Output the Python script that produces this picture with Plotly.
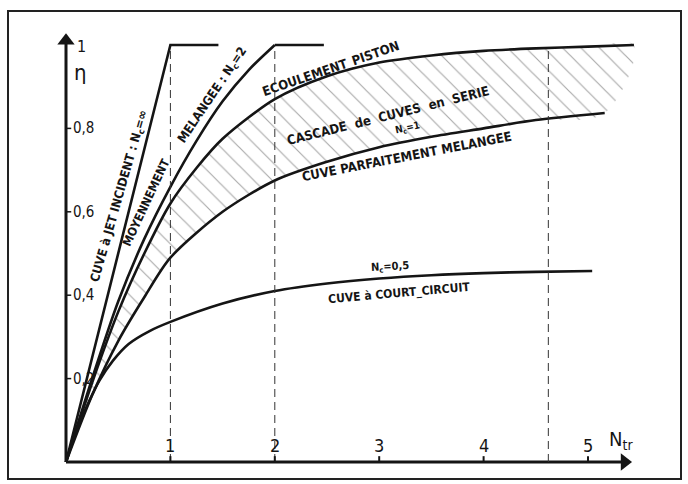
import plotly.graph_objects as go

# ---- data (Ntr -> eta) ----
jet_ntr = [0, 1.0, 1.46]
jet_eta = [0, 1.0, 1.0]

nc2_ntr = [0, 0.25, 0.5, 0.75, 1.0, 1.25, 1.5, 1.75, 2.0]
nc2_eta = [0, 0.2, 0.385, 0.535, 0.66, 0.77, 0.865, 0.94, 1.0]
nc2_flat_ntr = [2.0, 2.47]
nc2_flat_eta = [1.0, 1.0]

piston_ntr = [0, 0.25, 0.5, 0.75, 1.0, 1.25, 1.5, 2.0, 2.5, 3.0, 3.5, 4.0, 4.5, 5.0, 5.44]
piston_eta = [0, 0.19, 0.36, 0.5, 0.62, 0.705, 0.775, 0.87, 0.925, 0.958, 0.975, 0.986, 0.992, 0.996, 1.0]

parfait_ntr = [0, 0.25, 0.5, 0.75, 1.0, 1.5, 2.0, 2.5, 3.0, 3.5, 4.0, 4.5, 5.16]
parfait_eta = [0, 0.16, 0.29, 0.395, 0.49, 0.6, 0.675, 0.72, 0.755, 0.78, 0.80, 0.82, 0.837]

court_ntr = [0, 0.1, 0.22, 0.32, 0.45, 0.6, 0.8, 1.0, 1.5, 2.0, 2.5, 3.0, 3.5, 4.0, 4.5, 5.04]
court_eta = [0, 0.075, 0.145, 0.195, 0.243, 0.283, 0.314, 0.336, 0.38, 0.41, 0.428, 0.44, 0.448, 0.453, 0.456, 0.458]

dashed_x = [1.0, 2.0, 4.62]
x_ticks = [1, 2, 3, 4, 5]
x_tick_labels = ["1", "2", "3", "4", "5"]
y_ticks = [0.2, 0.4, 0.6, 0.8]
y_tick_labels = ["0,2", "0,4", "0,6", "0,8"]

# ---- pixel mapping helpers (plot area = whole 688x484 page) ----
W, H = 688, 484
X0_PX, X_UNIT = 66, 104.4
Y0_PX, Y_UNIT = 462, 417
x_range = [-X0_PX / X_UNIT, (W - X0_PX) / X_UNIT]
y_range = [(Y0_PX - H) / Y_UNIT, Y0_PX / Y_UNIT]
X_END = 5.42   # x-axis arrow tip
Y_END = 1.03   # y-axis arrow tip

INK = "#151515"
LBL_FONT = "DejaVu Sans Condensed, Liberation Sans Narrow, Arial Narrow, sans-serif"

fig = go.Figure()

# hatched zone between piston flow and perfectly mixed tank
fig.add_trace(go.Scatter(
    x=piston_ntr + parfait_ntr[::-1],
    y=piston_eta + parfait_eta[::-1],
    fill="toself", mode="none",
    fillcolor="rgba(0,0,0,0)",
    fillpattern=dict(shape="\\", size=13, solidity=0.09, fgcolor="#555", bgcolor="white"),
    hoverinfo="skip", line=dict(shape="spline"),
))

def curve(x, y, shape="spline", width=2.6):
    fig.add_trace(go.Scatter(x=x, y=y, mode="lines",
                             line=dict(color=INK, width=width, shape=shape, smoothing=0.8),
                             hoverinfo="skip"))

curve(jet_ntr, jet_eta, shape="linear")
curve(nc2_ntr, nc2_eta)
curve(nc2_flat_ntr, nc2_flat_eta, shape="linear")
curve(piston_ntr, piston_eta)
curve(parfait_ntr, parfait_eta)
curve(court_ntr, court_eta)

# axes lines with arrow heads
curve([0, X_END - 0.05], [0, 0], shape="linear", width=3)
curve([0, 0], [0, Y_END - 0.02], shape="linear", width=3)
fig.add_trace(go.Scatter(x=[X_END - 0.07], y=[0], mode="markers",
                         marker=dict(symbol="triangle-right", size=15, color=INK), hoverinfo="skip"))
fig.add_trace(go.Scatter(x=[0], y=[Y_END - 0.02], mode="markers",
                         marker=dict(symbol="triangle-up", size=15, color=INK), hoverinfo="skip"))

shapes = []
# dashed verticals
for xv in dashed_x:
    shapes.append(dict(type="line", xref="x", yref="y", x0=xv, x1=xv, y0=0, y1=0.995,
                       line=dict(color="#333", width=1, dash="8px,5px")))
# ticks
for xv in x_ticks:
    shapes.append(dict(type="line", xref="x", yref="y", x0=xv, x1=xv, y0=0, y1=0.014,
                       line=dict(color=INK, width=2)))
for yv in y_ticks:
    shapes.append(dict(type="line", xref="x", yref="y", x0=0, x1=0.05, y0=yv, y1=yv,
                       line=dict(color=INK, width=1.5)))
# frame
shapes.append(dict(type="rect", xref="paper", yref="paper",
                   x0=8 / W, x1=681 / W, y0=(H - 479) / H, y1=(H - 11) / H,
                   line=dict(color="#222", width=2)))

ann = []
num_font = dict(family=LBL_FONT, size=18, color=INK)
for xv, t in zip(x_ticks, x_tick_labels):
    ann.append(dict(x=xv, y=0, xref="x", yref="y", text=t, showarrow=False,
                    yshift=17, font=num_font))
for yv, t in zip(y_ticks, y_tick_labels):
    ann.append(dict(x=0, y=yv, xref="x", yref="y", text=t, showarrow=False,
                    xanchor="left", xshift=5, font=dict(family=LBL_FONT, size=15, color=INK)))
ann.append(dict(x=0, y=1.0, xref="x", yref="y", text="1", showarrow=False,
                xshift=15, yshift=-1, font=dict(family=LBL_FONT, size=16, color=INK)))
ann.append(dict(x=0, y=0.935, xref="x", yref="y", text="η", showarrow=False,
                xshift=14, font=dict(family=LBL_FONT, size=22, color=INK)))
ann.append(dict(x=5.18, y=0, xref="x", yref="y", text="N<sub>tr</sub>", showarrow=False,
                xanchor="left", yshift=22, font=dict(family=LBL_FONT, size=20, color=INK)))

def lbl(text, px, py, angle, size=11):
    ann.append(dict(x=(px - X0_PX) / X_UNIT, y=(Y0_PX - py) / Y_UNIT, xref="x", yref="y",
                    text=text, showarrow=False, textangle=angle,
                    font=dict(family=LBL_FONT, size=size, color=INK)))

B = lambda s: "<b>" + s + "</b>"
lbl(B("CUVE à JET INCIDENT : N<sub>c</sub>=∞"), 119, 196, -74, 12.5)
lbl(B("MOYENNEMENT"), 146, 203, -65, 12)
lbl(B("MELANGEE : N<sub>c</sub>=2"), 212, 95, -56, 12.5)
lbl(B("ECOULEMENT_PISTON"), 331, 69, -19, 13)
lbl(B("CASCADE  de  CUVES  en  SERIE"), 388, 115, -14, 13)
lbl(B("N<sub>c</sub>=1"), 407, 128, -12, 10)
lbl(B("CUVE PARFAITEMENT MELANGEE"), 406, 156, -11, 13)
lbl(B("N<sub>c</sub>=0,5"), 390, 267, -3, 11)
lbl(B("CUVE à COURT_CIRCUIT"), 399, 293, -5, 12)

fig.update_layout(
    width=W, height=H,
    margin=dict(l=0, r=0, t=0, b=0),
    paper_bgcolor="white", plot_bgcolor="white",
    showlegend=False,
    xaxis=dict(range=x_range, visible=False, fixedrange=True),
    yaxis=dict(range=y_range, visible=False, fixedrange=True),
    shapes=shapes, annotations=ann,
    hovermode=False,
)

fig.write_html("out.html", config={"displayModeBar": False},
               post_script="document.body.style.margin='0';document.body.style.overflow='hidden';")
